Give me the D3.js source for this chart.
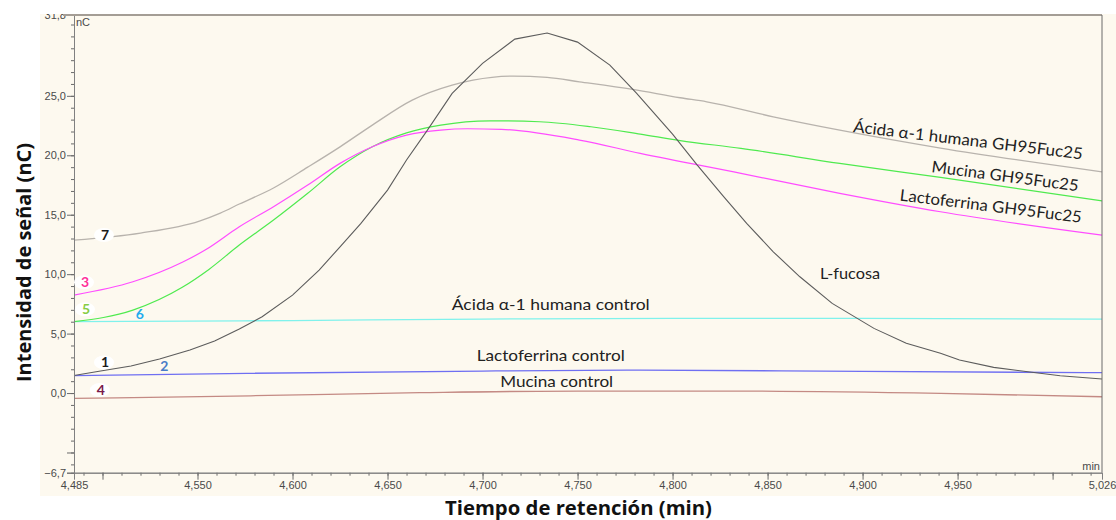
<!DOCTYPE html>
<html><head><meta charset="utf-8">
<script src="https://cdn.jsdelivr.net/npm/d3@7"></script>
<style>body{margin:0;background:#fff}</style>
</head><body><svg id="c" width="1116" height="520"></svg>
<script>
// ---- data (time in min, signal in nC) ----
const tFucosa = [4.485,4.499,4.515,4.530,4.546,4.559,4.572,4.584,4.600,4.614,4.625,4.636,4.650,4.660,4.671,4.684,4.700,4.717,4.734,4.750,4.767,4.781,4.800,4.813,4.827,4.839,4.853,4.867,4.884,4.906,4.923,4.941,4.951,4.969,4.987,5.004,5.026];
const vFucosa = [1.47,1.85,2.27,2.86,3.62,4.37,5.38,6.42,8.24,10.34,12.30,14.27,17.07,19.60,22.12,25.21,27.73,29.77,30.28,29.52,27.59,25.23,21.78,19.18,16.51,14.27,11.88,9.78,7.54,5.44,4.18,3.34,2.78,2.16,1.79,1.46,1.18];

const tAcidaGH = [4.485,4.520,4.551,4.562,4.572,4.590,4.608,4.625,4.642,4.663,4.684,4.695,4.716,4.734,4.751,4.779,4.804,4.818,4.853,4.888,4.941,5.026];
const vAcidaGH = [12.87,13.46,14.47,15.14,15.90,17.25,19.00,20.71,22.54,24.64,25.90,26.32,26.66,26.55,26.18,25.54,24.84,24.50,23.24,22.12,20.61,18.61];

const tMucinaGH = [4.485,4.516,4.542,4.556,4.572,4.590,4.608,4.625,4.642,4.660,4.678,4.704,4.730,4.757,4.783,4.804,4.836,4.888,4.941,5.026];
const vMucinaGH = [6.00,6.98,8.90,10.40,12.45,14.55,16.80,19.03,20.72,21.89,22.54,22.90,22.82,22.40,21.78,21.24,20.58,19.32,18.14,16.17];

const tLactoGH = [4.485,4.516,4.542,4.554,4.572,4.590,4.608,4.625,4.642,4.660,4.678,4.692,4.710,4.751,4.783,4.836,4.888,4.941,5.026];
const vLactoGH = [8.24,9.36,11.00,12.03,13.99,15.67,17.49,19.32,20.72,21.70,22.12,22.23,22.18,21.28,20.16,18.48,16.80,15.25,13.29];

const tAcidaCtrl = [4.485,4.600,4.700,4.800,4.900,5.026];
const vAcidaCtrl = [6.00,6.10,6.22,6.28,6.28,6.22];

const tLactoCtrl = [4.485,4.576,4.700,4.783,4.900,5.026];
const vLactoCtrl = [1.46,1.66,1.85,1.93,1.82,1.71];

const tMucinaCtrl = [4.485,4.578,4.667,4.750,4.825,4.941,5.026];
const vMucinaCtrl = [-0.45,-0.23,0.03,0.17,0.17,-0.03,-0.31];

const xTickLabels = [4.485,4.550,4.600,4.650,4.700,4.750,4.800,4.850,4.900,4.950,5.026];
const xMajorTicks = [4.50,4.55,4.60,4.65,4.70,4.75,4.80,4.85,4.90,4.95,5.00];
const yTickLabels = [-6.7,0,5,10,15,20,25,31.8];

// annotations (text, time, value, rotation)
const seriesLabels = ["Ácida α-1 humana GH95Fuc25","Mucina GH95Fuc25","Lactoferrina GH95Fuc25","Ácida α-1 humana control","Lactoferrina control","Mucina control","L-fucosa"];
const seriesLabelT = [4.9555,4.975,4.9675,4.7359,4.7359,4.739,4.8934];
const seriesLabelV = [21.28,18.25,15.73,7.49,3.20,0.95,10.07];
const seriesLabelRot = [6.8,7.5,7.0,0,0,0,0];
const seriesLabelLen = [231,148,183,198,148,113,60];

const numLabels = ["7","3","5","6","1","2","4"];
const numLabelT = [4.5013,4.4908,4.4913,4.5197,4.5013,4.5325,4.4991];
const numLabelV = [13.29,9.31,7.04,6.64,2.58,2.30,0.25];
const numLabelColor = ["#1a1a1a","#ff3399","#88cc44","#22aaee","#1a1a1a","#4a7cc8","#7a1a4a"];
const numLabelBlob = [true,true,true,false,true,false,true];

const series = [
  {t:tAcidaCtrl, v:vAcidaCtrl, c:"#80f2ec", w:1.3},
  {t:tMucinaCtrl, v:vMucinaCtrl, c:"#c48a84", w:1.3},
  {t:tLactoCtrl, v:vLactoCtrl, c:"#6f6ff2", w:1.3},
  {t:tAcidaGH, v:vAcidaGH, c:"#b8b3ad", w:1.3},
  {t:tMucinaGH, v:vMucinaGH, c:"#4fea4f", w:1.2},
  {t:tLactoGH, v:vLactoGH, c:"#ff4dff", w:1.2},
  {t:tFucosa, v:vFucosa, c:"#5c5c5c", w:1.1, linear:true}
];

// ---- drawing ----
const svg = d3.select("#c");
const x = d3.scaleLinear().domain([4.485, 5.026]).range([74, 1102]);
const y = d3.scaleLinear().domain([-6.7, 31.8]).range([472.7, 15]);
const comma = s => s.replace(".", ",");

svg.append("defs").append("clipPath").attr("id","panel")
  .append("rect").attr("x",40).attr("y",14).attr("width",1076).attr("height",482);

const g = svg.append("g").attr("clip-path","url(#panel)");
g.append("rect").attr("x",40).attr("y",14).attr("width",1076).attr("height",482).attr("fill","#fdf9ef");

// lines
const plot = g.append("g");
series.forEach(s => {
  const pts = s.t.map((t,i)=>[t, s.v[i]]);
  const line = d3.line().x(d=>x(d[0])).y(d=>y(d[1]))
    .curve(s.linear ? d3.curveLinear : d3.curveMonotoneX);
  plot.append("path").attr("d", line(pts)).attr("fill","none")
    .attr("stroke", s.c).attr("stroke-width", s.w);
});

// axes
const tickFont = "'Liberation Sans', Arial, sans-serif";
function styleAxis(sel){
  sel.selectAll("path.domain").attr("stroke","#808080");
  sel.selectAll(".tick line").attr("stroke","#6a6a6a");
  sel.selectAll("text").attr("fill","#4a4a4a").style("font-family",tickFont).style("font-size","11px");
}
const yMinor = d3.range(-6, 32, 1);
const yMinorAx = g.append("g").attr("transform","translate(74,0)")
  .call(d3.axisLeft(y).tickValues(yMinor).tickSize(3).tickFormat(""));
styleAxis(yMinorAx);
const yMajorAx = g.append("g").attr("transform","translate(74,0)")
  .call(d3.axisLeft(y).tickValues(yTickLabels.concat([-5])).tickSize(7).tickPadding(1)
    .tickFormat(d => d === -5 ? "" : comma(d3.format(".1f")(d))));
styleAxis(yMajorAx);

const xMinor = d3.range(4.49, 5.025, 0.01);
const xMinorAx = g.append("g").attr("transform","translate(0,472.7)")
  .call(d3.axisBottom(x).tickValues(xMinor).tickSize(3).tickFormat(""));
styleAxis(xMinorAx);
const xMajorAx = g.append("g").attr("transform","translate(0,472.7)")
  .call(d3.axisBottom(x).tickValues(xMajorTicks).tickSize(7).tickFormat(""));
styleAxis(xMajorAx);
const xLabAx = g.append("g").attr("transform","translate(0,472.7)")
  .call(d3.axisBottom(x).tickValues(xTickLabels).tickSize(0).tickPadding(9)
    .tickFormat(d => comma(d3.format(".3f")(d))));
styleAxis(xLabAx);
xLabAx.select("path.domain").remove();

// frame: top and right borders
g.append("line").attr("x1",63).attr("x2",1102).attr("y1",y(31.8)).attr("y2",y(31.8))
  .attr("stroke","#a49d95").attr("stroke-width",2);
g.append("line").attr("x1",x(5.026)).attr("x2",x(5.026)).attr("y1",y(31.8)).attr("y2",y(-6.7))
  .attr("stroke","#6a6a6a").attr("stroke-width",1);

// unit labels
g.append("text").attr("x",x(4.485)+2).attr("y",y(31.8)+11).text("nC")
  .style("font-family",tickFont).style("font-size","11px").attr("fill","#4a4a4a");
g.append("text").attr("x",x(5.026)-2).attr("y",y(-6.7)-3).attr("text-anchor","end").text("min")
  .style("font-family",tickFont).style("font-size","11px").attr("fill","#4a4a4a");

// series annotations
const annFont = "Lato, 'Open Sans', sans-serif";
seriesLabels.forEach((s,i) => {
  const px = x(seriesLabelT[i]), py = y(seriesLabelV[i]);
  g.append("text").attr("transform",`translate(${px},${py}) rotate(${seriesLabelRot[i]})`)
    .attr("text-anchor","middle").attr("dy","0.35em")
    .attr("textLength", seriesLabelLen[i]).attr("lengthAdjust","spacingAndGlyphs")
    .style("font-family",annFont).style("font-size","16px").attr("fill","#222")
    .text(s);
});

// number labels with white blobs
numLabels.forEach((s,i) => {
  const px = x(numLabelT[i]), py = y(numLabelV[i]);
  if (numLabelBlob[i]) {
    g.append("ellipse").attr("cx",px-1).attr("cy",py).attr("rx",10).attr("ry",7).attr("fill","#ffffff");
  }
  g.append("text").attr("x",px).attr("y",py).attr("dy","0.36em").attr("text-anchor","middle")
    .style("font-family",annFont).style("font-size","14px").style("font-weight","bold")
    .attr("fill",numLabelColor[i]).text(s);
});

// axis titles
svg.append("text").attr("transform","translate(31,262.5) rotate(-90)")
  .attr("text-anchor","middle").attr("textLength",239).attr("lengthAdjust","spacingAndGlyphs")
  .style("font-family","'Open Sans', sans-serif").style("font-weight","bold").style("font-size","19px")
  .attr("fill","#111").text("Intensidad de señal (nC)");
svg.append("text").attr("x",578.5).attr("y",515)
  .attr("text-anchor","middle").attr("textLength",267).attr("lengthAdjust","spacingAndGlyphs")
  .style("font-family","'Open Sans', sans-serif").style("font-weight","bold").style("font-size","19px")
  .attr("fill","#111").text("Tiempo de retención (min)");
</script>
</body></html>
